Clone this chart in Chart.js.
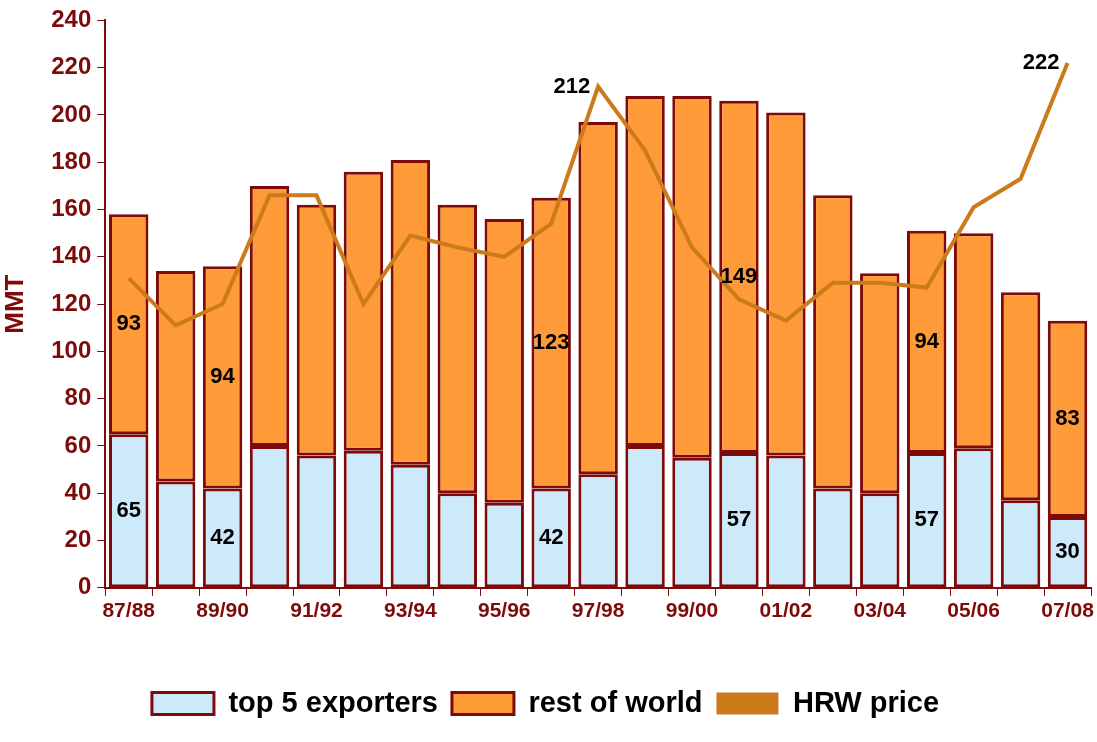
<!DOCTYPE html>
<html><head><meta charset="utf-8">
<script src="https://cdn.jsdelivr.net/npm/chart.js@4"></script>
<style>html,body{margin:0;padding:0;background:#fff}#w{width:1097px;height:742px}</style>
</head><body><div id="w"><canvas id="c"></canvas></div>
<script>
const categories=["87/88","88/89","89/90","90/91","91/92","92/93","93/94","94/95","95/96","96/97","97/98","98/99","99/00","00/01","01/02","02/03","03/04","04/05","05/06","06/07","07/08"];
const top5=[65,45,42,60,56,58,52,40,36,42,48,60,55,57,56,42,40,57,59,37,30];
const rest=[93,89,94,110,106,118,129,122,120,123,149,148,153,149,145,124,93,94,91,88,83];
const hrw=[131,111,120,166,166,120,149,144,140,154,212,185,144,122,113,129,129,127,161,173,222];
const barLabels={0:[true,true],2:[true,true],9:[true,true],13:[true,true],17:[true,true],20:[true,true]};
const priceLabels=[10,20];
const red="#7f0a0a";
const labelPlugin={id:"lbl",afterDatasetsDraw(ch){
 const ctx=ch.ctx,x=ch.scales.x,y=ch.scales.y;
 ctx.save();ctx.font="bold 22px Arial, 'Liberation Sans'";ctx.fillStyle="#000";ctx.textAlign="center";ctx.textBaseline="middle";
 for(const k in barLabels){const i=+k;const cx=x.getPixelForValue(i);
  ctx.fillText(top5[i],cx,y.getPixelForValue(top5[i]/2));
  ctx.fillText(rest[i],cx,y.getPixelForValue(top5[i]+rest[i]/2));}
 ctx.textAlign="right";
 priceLabels.forEach(i=>ctx.fillText(hrw[i],x.getPixelForValue(i)-8,y.getPixelForValue(hrw[i])));
 ctx.restore();}};
const legendSpace={id:"lsp",beforeInit(ch){const lg=ch.legend;const f=lg.fit;lg.fit=function(){f.call(this);this.height+=62;};
 const d=lg.draw;lg.draw=function(){this.ctx.save();this.ctx.translate(0,48);d.call(this);this.ctx.restore();};}};
new Chart(document.getElementById("c"),{
 data:{labels:categories,datasets:[
  {type:"line",label:"HRW price",data:hrw,borderColor:"#cc7a1c",backgroundColor:"#cc7a1c",borderWidth:4,pointRadius:0,tension:0,order:0},
  {type:"bar",label:"top 5 exporters",data:top5,backgroundColor:"#cdeafa",borderColor:red,borderWidth:3,borderSkipped:false,barPercentage:0.84,categoryPercentage:1,order:1},
  {type:"bar",label:"rest of world",data:rest,backgroundColor:"#ff9a38",borderColor:red,borderWidth:3,borderSkipped:false,barPercentage:0.84,categoryPercentage:1,order:1}
 ]},
 options:{responsive:true,maintainAspectRatio:false,animation:false,
  layout:{padding:{left:0,right:6,top:4,bottom:0}},
  plugins:{tooltip:{enabled:false},
   legend:{position:"bottom",
    labels:{color:"#000",font:{family:"Arial, 'Liberation Sans'",size:29,weight:"bold"},boxWidth:62,boxHeight:22,padding:14,
     generateLabels(ch){const d=ch.data.datasets;return [
      {text:d[1].label,fillStyle:d[1].backgroundColor,strokeStyle:red,lineWidth:3,datasetIndex:1},
      {text:d[2].label,fillStyle:d[2].backgroundColor,strokeStyle:red,lineWidth:3,datasetIndex:2},
      {text:d[0].label,fillStyle:"#cc7a1c",strokeStyle:"#cc7a1c",lineWidth:0,datasetIndex:0}];}}}},
  scales:{
   x:{stacked:true,offset:true,border:{color:red,width:2},
    grid:{display:true,drawOnChartArea:false,offset:true,color:red,tickLength:8},
    ticks:{color:red,font:{family:"Arial, 'Liberation Sans'",size:21,weight:"bold"},maxRotation:0,autoSkip:false,
     callback:(v,i)=>i%2===0?categories[i]:""}},
   y:{stacked:true,min:0,max:240,border:{color:red,width:2},
    grid:{display:true,drawOnChartArea:false,color:red,tickLength:8},
    ticks:{stepSize:20,color:red,font:{family:"Arial, 'Liberation Sans'",size:24,weight:"bold"},padding:6},
    title:{display:true,text:"MMT",color:red,padding:{top:0,bottom:14},font:{family:"Arial, 'Liberation Sans'",size:26,weight:"bold"}}}}},
 plugins:[labelPlugin,legendSpace]});
</script></body></html>
